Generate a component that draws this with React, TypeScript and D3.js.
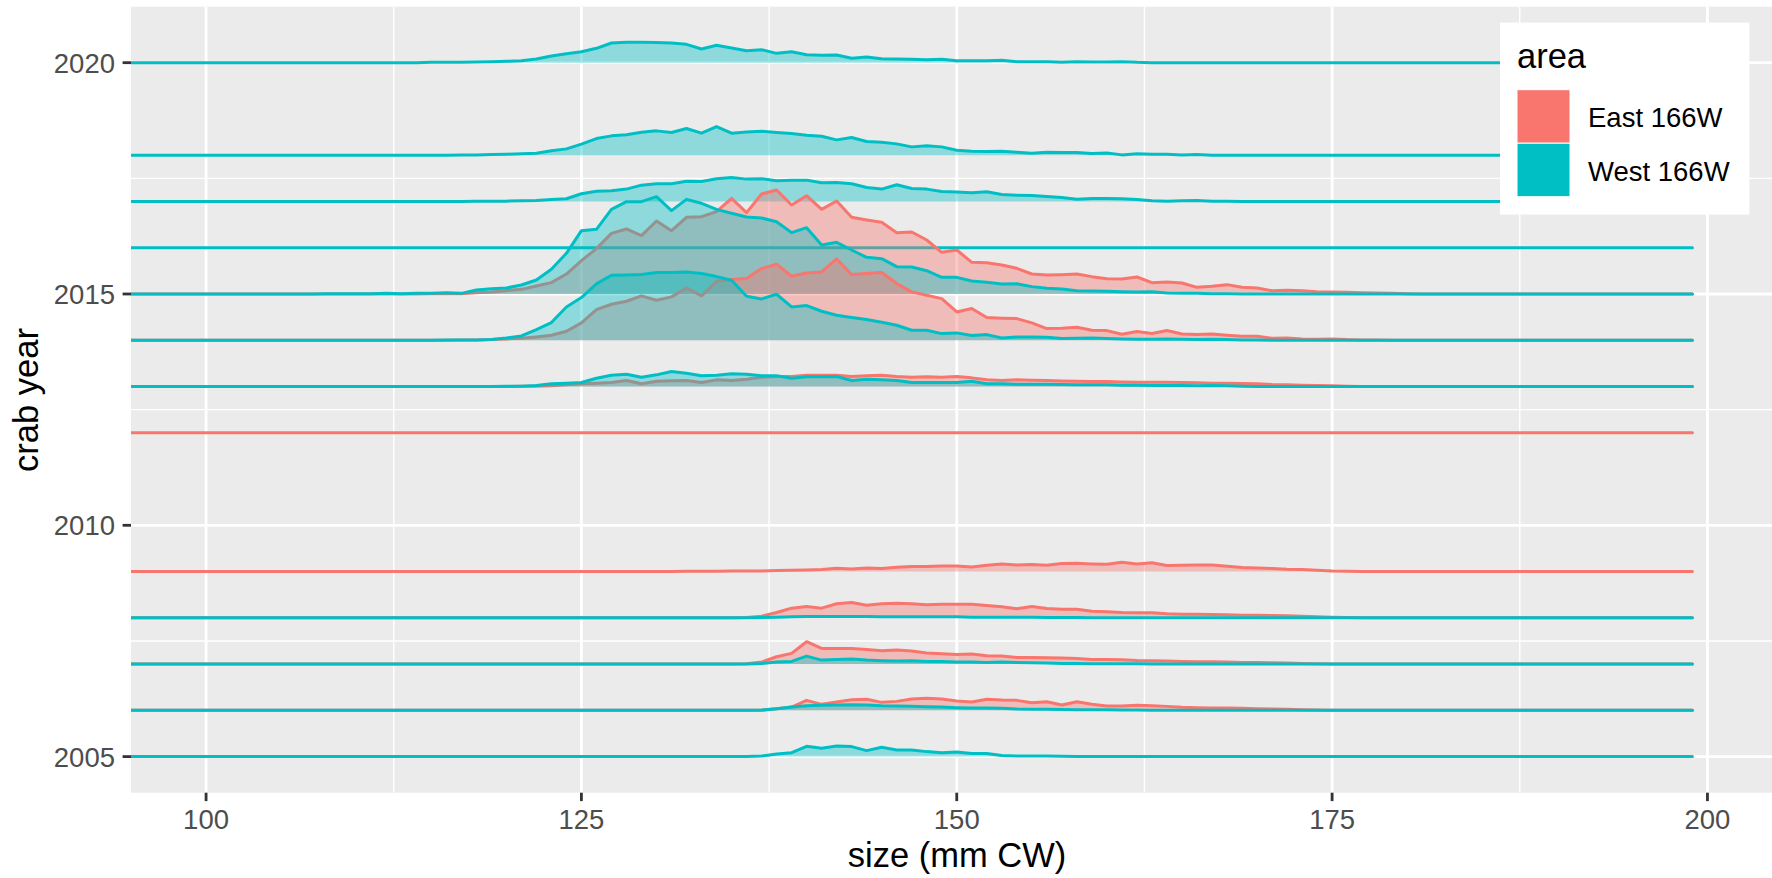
import React from 'react';
import * as d3 from 'd3';

const W = 1772;
const H = 878;

// axis ticks / grid
const xTicks = [100, 125, 150, 175, 200];
const xMinor = [112.5, 137.5, 162.5, 187.5];
const yTicks = [2005, 2010, 2015, 2020];
const yMinor = [2007.5, 2012.5, 2017.5];
const sizeMin = 95;
const sizeMax = 199;
const areas = ['East 166W', 'West 166W'];
const areaColors = ['#F8766D', '#00BFC4'];

// ridge heights (in crab-year units) per 1 mm size bin, starting at the given size
const west2020Start = 115;
const west2020 = [0.007, 0.007, 0.007, 0.014, 0.02, 0.03, 0.043, 0.079, 0.144, 0.195, 0.238, 0.31, 0.425, 0.44, 0.44, 0.435, 0.425, 0.396, 0.295, 0.375, 0.317, 0.259, 0.281, 0.202, 0.238, 0.173, 0.159, 0.166, 0.094, 0.123, 0.086, 0.079, 0.072, 0.065, 0.072, 0.043, 0.043, 0.043, 0.05, 0.022, 0.022, 0.022, 0.007, 0.022, 0.014, 0.014, 0.022, 0.007];

const west2018Start = 117;
const west2018 = [0.007, 0.007, 0.014, 0.022, 0.029, 0.043, 0.094, 0.137, 0.238, 0.36, 0.418, 0.44, 0.497, 0.526, 0.49, 0.576, 0.476, 0.62, 0.476, 0.504, 0.519, 0.49, 0.468, 0.432, 0.41, 0.331, 0.382, 0.295, 0.281, 0.245, 0.18, 0.202, 0.18, 0.108, 0.086, 0.079, 0.086, 0.065, 0.043, 0.065, 0.058, 0.058, 0.036, 0.05, 0.007, 0.029, 0.022, 0.022, 0.007, 0.014];

const west2017Start = 118;
const west2017 = [0.004, 0.004, 0.007, 0.014, 0.022, 0.043, 0.058, 0.166, 0.223, 0.23, 0.267, 0.353, 0.382, 0.382, 0.439, 0.432, 0.49, 0.519, 0.483, 0.49, 0.447, 0.461, 0.461, 0.403, 0.41, 0.382, 0.303, 0.267, 0.36, 0.281, 0.267, 0.216, 0.202, 0.187, 0.209, 0.151, 0.137, 0.13, 0.108, 0.086, 0.05, 0.065, 0.065, 0.058, 0.043, 0.014, 0.007, 0.014, 0.022, 0.007, 0.007];

const west2016Start = 95;
const west2016: number[] = [];

const west2015Start = 108;
const west2015 = [0.004, 0.004, 0.007, 0.007, 0.014, 0.007, 0.014, 0.014, 0.029, 0.014, 0.086, 0.115, 0.13, 0.195, 0.303, 0.533, 0.879, 1.369, 1.398, 1.83, 1.996, 1.996, 2.104, 1.801, 2.046, 1.96, 1.83, 1.744, 1.664, 1.643, 1.563, 1.326, 1.434, 1.059, 1.117, 0.951, 0.793, 0.764, 0.591, 0.584, 0.504, 0.36, 0.36, 0.281, 0.252, 0.216, 0.223, 0.159, 0.122, 0.108, 0.072, 0.065, 0.058, 0.05, 0.043, 0.05, 0.022, 0.014, 0.014, 0.007, 0.007];

const east2015Start = 115;
const east2015 = [0.004, 0.007, 0.007, 0.029, 0.043, 0.072, 0.1, 0.173, 0.245, 0.432, 0.72, 0.98, 1.311, 1.405, 1.261, 1.578, 1.369, 1.657, 1.671, 1.78, 2.068, 1.758, 2.161, 2.248, 1.924, 2.125, 1.83, 2.01, 1.657, 1.6, 1.549, 1.326, 1.34, 1.167, 0.9, 0.951, 0.685, 0.677, 0.627, 0.555, 0.432, 0.41, 0.418, 0.432, 0.375, 0.331, 0.324, 0.367, 0.245, 0.259, 0.238, 0.144, 0.166, 0.202, 0.144, 0.13, 0.072, 0.079, 0.072, 0.05, 0.043, 0.036, 0.029, 0.022, 0.014, 0.007];

const west2014Start = 116;
const west2014 = [0.004, 0.007, 0.007, 0.014, 0.05, 0.094, 0.231, 0.382, 0.72, 0.922, 1.218, 1.405, 1.412, 1.42, 1.463, 1.463, 1.477, 1.441, 1.376, 1.297, 0.951, 0.893, 0.994, 0.72, 0.749, 0.627, 0.54, 0.49, 0.447, 0.389, 0.324, 0.216, 0.216, 0.144, 0.159, 0.101, 0.122, 0.05, 0.072, 0.072, 0.065, 0.036, 0.043, 0.05, 0.036, 0.029, 0.022, 0.022, 0.029, 0.022, 0.014, 0.022, 0.014, 0.007, 0.007];

const east2014Start = 117;
const east2014 = [0.004, 0.007, 0.014, 0.029, 0.043, 0.072, 0.108, 0.195, 0.375, 0.663, 0.778, 0.843, 0.958, 0.865, 0.937, 1.131, 0.958, 1.275, 1.311, 1.333, 1.549, 1.643, 1.383, 1.455, 1.477, 1.758, 1.419, 1.441, 1.463, 1.225, 1.045, 0.973, 0.9, 0.612, 0.685, 0.49, 0.476, 0.468, 0.375, 0.252, 0.259, 0.281, 0.216, 0.209, 0.13, 0.187, 0.144, 0.209, 0.137, 0.122, 0.137, 0.108, 0.086, 0.086, 0.043, 0.05, 0.029, 0.022, 0.029, 0.014, 0.007, 0.007];

const west2013Start = 120;
const west2013 = [0.004, 0.007, 0.022, 0.058, 0.072, 0.086, 0.18, 0.245, 0.267, 0.202, 0.252, 0.324, 0.288, 0.231, 0.245, 0.274, 0.267, 0.231, 0.231, 0.18, 0.209, 0.209, 0.216, 0.13, 0.159, 0.144, 0.13, 0.086, 0.086, 0.086, 0.086, 0.115, 0.058, 0.058, 0.05, 0.05, 0.05, 0.043, 0.036, 0.036, 0.036, 0.029, 0.029, 0.022, 0.022, 0.022, 0.014, 0.022, 0.014, 0.007];

const east2013Start = 121;
const east2013 = [0.004, 0.007, 0.014, 0.036, 0.058, 0.072, 0.086, 0.13, 0.058, 0.115, 0.122, 0.13, 0.086, 0.144, 0.13, 0.159, 0.202, 0.216, 0.216, 0.245, 0.245, 0.245, 0.216, 0.231, 0.245, 0.216, 0.2, 0.21, 0.2, 0.216, 0.187, 0.144, 0.13, 0.144, 0.137, 0.13, 0.12, 0.115, 0.108, 0.108, 0.1, 0.094, 0.094, 0.094, 0.086, 0.079, 0.072, 0.072, 0.065, 0.058, 0.043, 0.036, 0.029, 0.022, 0.014, 0.007];

const east2012Start = 95;
const east2012: number[] = [];

const east2009Start = 130;
const east2009 = [0.004, 0.004, 0.007, 0.007, 0.007, 0.01, 0.012, 0.014, 0.022, 0.03, 0.036, 0.043, 0.072, 0.058, 0.079, 0.065, 0.094, 0.108, 0.108, 0.122, 0.122, 0.1, 0.137, 0.166, 0.144, 0.151, 0.137, 0.173, 0.18, 0.166, 0.159, 0.202, 0.166, 0.19, 0.13, 0.137, 0.144, 0.144, 0.115, 0.086, 0.079, 0.065, 0.05, 0.043, 0.029, 0.014, 0.007];

const east2008Start = 136;
const east2008 = [0.007, 0.036, 0.115, 0.209, 0.245, 0.209, 0.303, 0.331, 0.274, 0.303, 0.317, 0.303, 0.281, 0.295, 0.295, 0.295, 0.267, 0.238, 0.195, 0.245, 0.202, 0.187, 0.187, 0.144, 0.13, 0.115, 0.108, 0.108, 0.086, 0.079, 0.075, 0.072, 0.065, 0.058, 0.058, 0.05, 0.043, 0.036, 0.022, 0.014, 0.007];

const west2008Start = 137;
const west2008 = [0.007, 0.014, 0.022, 0.029, 0.029, 0.029, 0.029, 0.029, 0.022, 0.022, 0.022, 0.022, 0.022, 0.022, 0.014, 0.014, 0.014, 0.014, 0.014, 0.007, 0.007, 0.007];

const east2007Start = 136;
const east2007 = [0.007, 0.043, 0.159, 0.231, 0.483, 0.339, 0.339, 0.339, 0.317, 0.288, 0.303, 0.281, 0.238, 0.223, 0.209, 0.216, 0.18, 0.173, 0.144, 0.144, 0.137, 0.13, 0.122, 0.101, 0.101, 0.094, 0.079, 0.072, 0.065, 0.058, 0.05, 0.05, 0.043, 0.036, 0.036, 0.029, 0.022, 0.014, 0.007];

const west2007Start = 136;
const west2007 = [0.004, 0.014, 0.043, 0.058, 0.173, 0.086, 0.101, 0.108, 0.086, 0.072, 0.065, 0.072, 0.058, 0.058, 0.043, 0.043, 0.036, 0.043, 0.036, 0.029, 0.022, 0.014, 0.014, 0.01, 0.01, 0.007, 0.007];

const east2006Start = 137;
const east2006 = [0.007, 0.036, 0.072, 0.216, 0.13, 0.18, 0.231, 0.238, 0.173, 0.194, 0.245, 0.259, 0.245, 0.202, 0.18, 0.238, 0.223, 0.216, 0.166, 0.187, 0.115, 0.187, 0.13, 0.094, 0.094, 0.108, 0.101, 0.086, 0.065, 0.055, 0.05, 0.05, 0.043, 0.036, 0.029, 0.022, 0.014, 0.007];

const west2006Start = 137;
const west2006 = [0.004, 0.036, 0.072, 0.1, 0.108, 0.115, 0.122, 0.115, 0.1, 0.094, 0.086, 0.079, 0.072, 0.058, 0.05, 0.05, 0.043, 0.029, 0.025, 0.022, 0.018, 0.014, 0.014, 0.014, 0.007, 0.007];

const west2005Start = 136;
const west2005 = [0.004, 0.014, 0.058, 0.086, 0.223, 0.18, 0.231, 0.216, 0.13, 0.202, 0.144, 0.144, 0.108, 0.086, 0.101, 0.065, 0.065, 0.022, 0.014, 0.014, 0.014, 0.007];

type Ridge = { year: number; area: number; start: number; values: number[] };

const ridges: Ridge[] = [
  { year: 2020, area: 1, start: west2020Start, values: west2020 },
  { year: 2018, area: 1, start: west2018Start, values: west2018 },
  { year: 2017, area: 1, start: west2017Start, values: west2017 },
  { year: 2016, area: 1, start: west2016Start, values: west2016 },
  { year: 2015, area: 0, start: east2015Start, values: east2015 },
  { year: 2015, area: 1, start: west2015Start, values: west2015 },
  { year: 2014, area: 0, start: east2014Start, values: east2014 },
  { year: 2014, area: 1, start: west2014Start, values: west2014 },
  { year: 2013, area: 0, start: east2013Start, values: east2013 },
  { year: 2013, area: 1, start: west2013Start, values: west2013 },
  { year: 2012, area: 0, start: east2012Start, values: east2012 },
  { year: 2009, area: 0, start: east2009Start, values: east2009 },
  { year: 2008, area: 0, start: east2008Start, values: east2008 },
  { year: 2008, area: 1, start: west2008Start, values: west2008 },
  { year: 2007, area: 0, start: east2007Start, values: east2007 },
  { year: 2007, area: 1, start: west2007Start, values: west2007 },
  { year: 2006, area: 0, start: east2006Start, values: east2006 },
  { year: 2006, area: 1, start: west2006Start, values: west2006 },
  { year: 2005, area: 1, start: west2005Start, values: west2005 },
];

const FONT = "'Liberation Sans', Arial, Helvetica, sans-serif";

export default function App() {
  const panel = { left: 131, right: 1772, top: 6.7, bottom: 792.7 };
  const x = d3.scaleLinear().domain([95, 204.3]).range([panel.left, panel.right]);
  const y = d3.scaleLinear().domain([2004.22, 2021.21]).range([panel.bottom, panel.top]);

  const sizes = d3.range(sizeMin, sizeMax + 1);

  const profile = (r: Ridge) =>
    sizes.map((s) => {
      const i = s - r.start;
      const v = i >= 0 && i < r.values.length ? r.values[i] : 0;
      return { s, v };
    });

  const area = (yr: number) =>
    d3
      .area<{ s: number; v: number }>()
      .x((d) => x(d.s))
      .y0(y(yr))
      .y1((d) => y(yr + d.v));
  const line = (yr: number) =>
    d3
      .line<{ s: number; v: number }>()
      .x((d) => x(d.s))
      .y((d) => y(yr + d.v));

  const axisText = '#4D4D4D';
  const tickCol = '#333333';

  return (
    <svg
      width={W}
      height={H}
      style={{ position: 'absolute', left: 0, top: 0, background: '#fff' }}
      fontFamily={FONT}
    >
      <defs>
        <clipPath id="panelClip">
          <rect x={panel.left} y={panel.top} width={panel.right - panel.left} height={panel.bottom - panel.top} />
        </clipPath>
      </defs>
      <rect x={0} y={0} width={W} height={H} fill="#fff" />
      <rect
        x={panel.left}
        y={panel.top}
        width={panel.right - panel.left}
        height={panel.bottom - panel.top}
        fill="#EBEBEB"
      />
      <g clipPath="url(#panelClip)">
        {xMinor.map((t) => (
          <line key={'xm' + t} x1={x(t)} x2={x(t)} y1={panel.top} y2={panel.bottom} stroke="#fff" strokeWidth={1.4} />
        ))}
        {yMinor.map((t) => (
          <line key={'ym' + t} x1={panel.left} x2={panel.right} y1={y(t)} y2={y(t)} stroke="#fff" strokeWidth={1.4} />
        ))}
        {xTicks.map((t) => (
          <line key={'xM' + t} x1={x(t)} x2={x(t)} y1={panel.top} y2={panel.bottom} stroke="#fff" strokeWidth={2.8} />
        ))}
        {yTicks.map((t) => (
          <line key={'yM' + t} x1={panel.left} x2={panel.right} y1={y(t)} y2={y(t)} stroke="#fff" strokeWidth={2.8} />
        ))}
        {ridges.map((r, i) => {
          const pts = profile(r);
          return (
            <g key={'r' + i}>
              <path d={area(r.year)(pts) || ''} fill={areaColors[r.area]} fillOpacity={0.4} stroke="none" />
              <path
                d={line(r.year)(pts) || ''}
                fill="none"
                stroke={areaColors[r.area]}
                strokeWidth={3}
                strokeLinejoin="round"
                strokeLinecap="round"
              />
            </g>
          );
        })}
      </g>

      {/* y axis */}
      {yTicks.map((t) => (
        <g key={'yt' + t}>
          <line x1={panel.left - 8.4} x2={panel.left} y1={y(t)} y2={y(t)} stroke={tickCol} strokeWidth={2.8} />
          <text x={115} y={y(t) + 9.9} textAnchor="end" fontSize={27.5} fill={axisText}>
            {t}
          </text>
        </g>
      ))}
      {/* x axis */}
      {xTicks.map((t) => (
        <g key={'xt' + t}>
          <line x1={x(t)} x2={x(t)} y1={panel.bottom} y2={panel.bottom + 8.4} stroke={tickCol} strokeWidth={2.8} />
          <text x={x(t)} y={829.3} textAnchor="middle" fontSize={27.5} fill={axisText}>
            {t}
          </text>
        </g>
      ))}
      <text x={957} y={866.5} textAnchor="middle" fontSize={34.5} fill="#000">
        size (mm CW)
      </text>
      <text transform="translate(38.3,400) rotate(-90)" textAnchor="middle" fontSize={34.5} fill="#000">
        crab year
      </text>

      {/* legend */}
      <rect x={1500} y={22.6} width={249.4} height={192} fill="#fff" />
      <text x={1517} y={68.3} fontSize={34.5} fill="#000">
        area
      </text>
      {areas.map((a, i) => (
        <g key={a}>
          <rect x={1517} y={89.7 + i * 53.5} width={53} height={53.5} fill={areaColors[i]} stroke="#fff" strokeWidth={1} />
          <text x={1588} y={126.7 + i * 54} fontSize={27.5} fill="#000">
            {a}
          </text>
        </g>
      ))}
    </svg>
  );
}
